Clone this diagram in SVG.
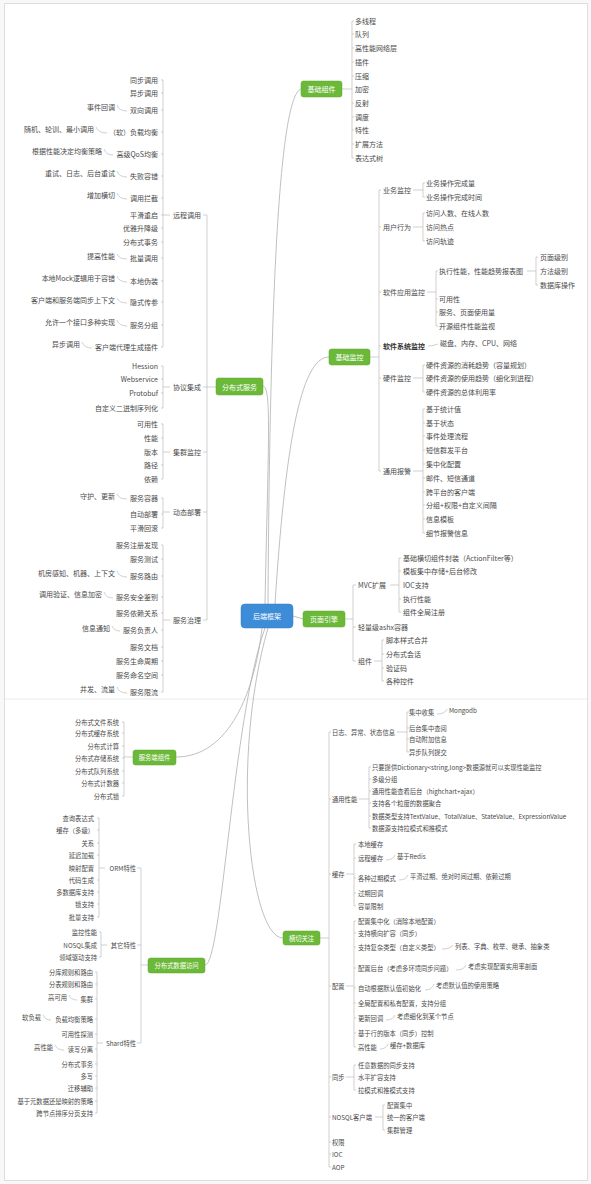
<svg xmlns="http://www.w3.org/2000/svg" width="591" height="1184" viewBox="0 0 591 1184">
<style>
text{font-family:"Noto Sans CJK SC","Noto Sans",sans-serif;dominant-baseline:central}
.t{font-size:7px;fill:#4a4a4a}
.s{font-size:6.3px;fill:#4a4a4a}
.e{text-anchor:end}
.bd{font-weight:bold;fill:#333}
.nt{fill:#fff;text-anchor:middle;font-size:7px}
.ns{fill:#fff;text-anchor:middle;font-size:6.3px}
.gr{fill:#6cb93a;stroke:#5ea82f;stroke-width:0.5}
.bl{fill:#3d8cd8;stroke:#3479c0;stroke-width:0.5}
.ln{fill:none;stroke:#bcbcbc;stroke-width:0.7}
.cv{fill:none;stroke:#b0b0b0;stroke-width:0.8}
</style>
<rect x="0" y="0" width="591" height="1184" fill="#f8f8f8"/>
<rect x="4.5" y="3.5" width="583" height="1177" fill="#fff" stroke="#dedede"/>
<line x1="5" y1="699" x2="587" y2="699" stroke="#ececec"/>

<g id="connectors">
<path class="cv" d="M268 604C270 250 282 95 301 89"/>
<path class="cv" d="M275 604C285 450 300 357 329 357"/>
<path class="cv" d="M265 604C268 450 272 386 263 386"/>
<path class="cv" d="M293 616L303 619"/>
<path class="cv" d="M262 628C255 690 230 757 176 757"/>
<path class="cv" d="M265 628C232 720 222 965 205 965"/>
<path class="cv" d="M268 628C230 760 250 938 283 938"/>
<!-- 分布式服务 -->
<path class="ln" d="M216 387H207M207 215V620M203 215h4M203 387h4M203 452h4M203 512h4M203 620h4"/>
<path class="ln" d="M163 80V347M170 215H163M161 80h2M161 93h2M161 110h2M161 132h2M161 154h2M161 176h2M161 198h2M161 215h2M161 228h2M161 242h2M161 258h2M161 281h2M161 302h2M161 325h2M161 347h2"/>
<path class="ln" d="M163 366V408M170 387H163M161 366h2M161 379h2M161 393h2M161 408h2"/>
<path class="ln" d="M163 424V479M170 452H163M161 424h2M161 438h2M161 465h2M161 479h2"/>
<path class="ln" d="M163 498V528M170 512H163M161 498h2M161 514h2M161 528h2"/>
<path class="ln" d="M163 545V692M170 620H163M161 545h2M161 559h2M161 576h2M161 597h2M161 613h2M161 630h2M161 647h2M161 661h2M161 675h2M161 692h2"/>
<path class="ln" d="M117 105Q119 111 127 111M96 127Q98 133 107 133M104 149Q106 155 113 155M117 171Q119 177 127 177M117 193Q119 199 127 199M117 254Q119 259 127 259M117 276Q119 282 127 282M117 298Q119 303 127 303M117 320Q119 326 127 326M82 342Q84 348 92 348M117 494Q119 499 127 499M117 571Q119 577 127 577M104 592Q106 598 113 598M112 626Q114 631 120 631M117 687Q119 693 127 693"/>
<!-- 基础组件 -->
<path class="ln" d="M342 89H352M352 21V158M352 21h2M352 34h2M352 48h2M352 62h2M352 76h2M352 103h2M352 117h2M352 130h2M352 144h2M352 158h2"/>
<!-- 基础监控 -->
<path class="ln" d="M370 357H379M379 190V471M379 190h2M379 227h2M379 292h2M379 346h2M379 378h2M379 471h2"/>
<path class="ln" d="M413 190H423M423 183V197M423 183h2M423 197h2"/>
<path class="ln" d="M413 227H423M423 213V241M423 213h2M423 241h2"/>
<path class="ln" d="M427 292H436M436 271V326M436 271h2M436 299h2M436 312h2M436 326h2"/>
<path class="ln" d="M527 271H536M536 257V285M536 257h2M536 285h2"/>
<path class="ln" d="M428 346Q433 346 438 344"/>
<path class="ln" d="M413 378H423M423 365V392M423 365h2M423 392h2"/>
<path class="ln" d="M413 471H423M423 409V533M423 409h2M423 423h2M423 436h2M423 450h2M423 464h2M423 478h2M423 492h2M423 505h2M423 519h2M423 533h2"/>
<!-- 页面引擎 -->
<path class="ln" d="M345 619H353M353 585V661M353 585h3M353 627h3M353 661h3"/>
<path class="ln" d="M390 585H399M399 558V612M399 558h2M399 571h2M399 599h2M399 612h2"/>
<path class="ln" d="M374 661H382M382 640V681M382 640h2M382 654h2M382 668h2M382 681h2"/>
<!-- 服务端组件 -->
<path class="ln" d="M133 757H124M124 722V796M122 722h2M122 733h2M122 746h2M122 758h2M122 771h2M122 783h2M122 796h2"/>
<!-- 分布式数据访问 -->
<path class="ln" d="M148 965H141M141 868V1043M137 868h4M137 945h4M137 1043h4"/>
<path class="ln" d="M99 818V917M105 868H99M97 818h2M97 830h2M97 843h2M97 855h2M97 880h2M97 892h2M97 904h2M97 917h2"/>
<path class="ln" d="M101 932V957M107 945H101M99 932h2M99 957h2"/>
<path class="ln" d="M97 972V1113M103 1043H97M95 972h2M95 984h2M95 999h2M95 1019h2M95 1034h2M95 1049h2M95 1064h2M95 1076h2M95 1088h2M95 1101h2M95 1113h2"/>
<path class="ln" d="M69 995Q71 1000 77 1000M43 1015Q45 1020 51 1020M55 1045Q57 1050 64 1050"/>
<!-- 横切关注 -->
<path class="ln" d="M320 938H329M329 732V1167M329 732h2M329 799h2M329 874h2M329 986h2M329 1077h2M329 1117h2M329 1142h2M329 1154h2M329 1167h2"/>
<path class="ln" d="M397 732H407M407 712V752M407 712h2M407 728h2M407 739h2M407 752h2"/>
<path class="ln" d="M359 799H369M369 767V828M369 767h2M369 779h2M369 791h2M369 803h2M369 816h2M369 828h2"/>
<path class="ln" d="M346 874H354M354 844V906M354 844h2M354 858h2M354 878h2M354 893h2M354 906h2"/>
<path class="ln" d="M346 986H354M354 921V1047M354 921h2M354 933h2M354 947h2M354 968h2M354 988h2M354 1003h2M354 1018h2M354 1033h2M354 1047h2"/>
<path class="ln" d="M346 1077H354M354 1065V1090M354 1065h2M354 1090h2"/>
<path class="ln" d="M375 1117H383M383 1105V1130M383 1105h2M383 1130h2"/>
<path class="ln" d="M437 714Q445 714 447 709M386 860Q393 860 395 855M399 880Q406 880 408 875M442 949Q451 949 453 945M456 970Q464 970 466 965M425 990Q432 990 434 984M386 1020Q393 1020 395 1015M380 1049Q386 1049 388 1044"/>
</g>

<g id="center"><rect class="bl" x="241" y="604" width="52" height="24" rx="4"/><text class="nt" x="267" y="616">后端框架</text></g>
<g id="jichuzujian"><rect class="gr" x="301" y="81" width="41" height="16" rx="2.5"/><text class="nt" x="321.5" y="89">基础组件</text></g>
<g id="jichujiankong"><rect class="gr" x="329" y="349" width="41" height="16" rx="2.5"/><text class="nt" x="349.5" y="357">基础监控</text></g>
<g id="fenbushifuwu"><rect class="gr" x="216" y="378" width="47" height="17" rx="2.5"/><text class="nt" x="239.5" y="386.5">分布式服务</text></g>
<g id="yemianyinqing"><rect class="gr" x="303" y="611" width="42" height="16" rx="2.5"/><text class="nt" x="324" y="619">页面引擎</text></g>
<g id="fuwuduanzujian"><rect class="gr" x="133" y="750" width="43" height="15" rx="2.5"/><text class="ns" x="154.5" y="757.5">服务端组件</text></g>
<g id="fenbushishujufangwen"><rect class="gr" x="148" y="958" width="57" height="15" rx="2.5"/><text class="ns" x="176.5" y="965.5">分布式数据访问</text></g>
<g id="hengqieguanzhu"><rect class="gr" x="283" y="931" width="37" height="14" rx="2.5"/><text class="ns" x="301.5" y="938">横切关注</text></g>

<!-- 分布式服务 branch -->
<g id="yuanchengdiaoyong"><text class="t" x="173" y="215">远程调用</text></g>
<g id="xieyijicheng"><text class="t" x="173" y="387">协议集成</text></g>
<g id="jiqunjiankong"><text class="t" x="173" y="452">集群监控</text></g>
<g id="dongtaibushu"><text class="t" x="173" y="512">动态部署</text></g>
<g id="fuwuzhili"><text class="t" x="173" y="620">服务治理</text></g>

<g id="rc-items" class="t e">
<g id="rc1"><text class="t e" x="158" y="80">同步调用</text></g>
<g id="rc2"><text class="t e" x="158" y="93">异步调用</text></g>
<g id="rc3"><text class="t e" x="158" y="110">双向调用</text></g>
<g id="rc4"><text class="t e" x="158" y="132">（软）负载均衡</text></g>
<g id="rc5"><text class="t e" x="158" y="154">高级QoS均衡</text></g>
<g id="rc6"><text class="t e" x="158" y="176">失败容错</text></g>
<g id="rc7"><text class="t e" x="158" y="198">调用拦截</text></g>
<g id="rc8"><text class="t e" x="158" y="215">平滑重启</text></g>
<g id="rc9"><text class="t e" x="158" y="228">优雅升降级</text></g>
<g id="rc10"><text class="t e" x="158" y="242">分布式事务</text></g>
<g id="rc11"><text class="t e" x="158" y="258">批量调用</text></g>
<g id="rc12"><text class="t e" x="158" y="281">本地伪装</text></g>
<g id="rc13"><text class="t e" x="158" y="302">隐式传参</text></g>
<g id="rc14"><text class="t e" x="158" y="325">服务分组</text></g>
<g id="rc15"><text class="t e" x="158" y="347">客户端代理生成插件</text></g>
<g id="rcn1"><text class="t e" x="115" y="107">事件回调</text></g>
<g id="rcn2"><text class="t e" x="94" y="129">随机、轮训、最小调用</text></g>
<g id="rcn3"><text class="t e" x="102" y="151">根据性能决定均衡策略</text></g>
<g id="rcn4"><text class="t e" x="115" y="173">重试、日志、后台重试</text></g>
<g id="rcn5"><text class="t e" x="115" y="195">增加横切</text></g>
<g id="rcn6"><text class="t e" x="115" y="256">提高性能</text></g>
<g id="rcn7"><text class="t e" x="115" y="278">本地Mock逻辑用于容错</text></g>
<g id="rcn8"><text class="t e" x="115" y="300">客户端和服务端同步上下文</text></g>
<g id="rcn9"><text class="t e" x="115" y="322">允许一个接口多种实现</text></g>
<g id="rcn10"><text class="t e" x="80" y="344">异步调用</text></g>
</g>

<g id="xy-items">
<g id="xy1"><text class="t e" x="158" y="366">Hession</text></g>
<g id="xy2"><text class="t e" x="158" y="379">Webservice</text></g>
<g id="xy3"><text class="t e" x="158" y="393">Protobuf</text></g>
<g id="xy4"><text class="t e" x="158" y="408">自定义二进制序列化</text></g>
</g>
<g id="jq-items">
<g id="jq1"><text class="t e" x="158" y="424">可用性</text></g>
<g id="jq2"><text class="t e" x="158" y="438">性能</text></g>
<g id="jq3"><text class="t e" x="158" y="452">版本</text></g>
<g id="jq4"><text class="t e" x="158" y="465">路径</text></g>
<g id="jq5"><text class="t e" x="158" y="479">依赖</text></g>
</g>
<g id="dt-items">
<g id="dt1"><text class="t e" x="158" y="498">服务容器</text></g>
<g id="dt2"><text class="t e" x="158" y="514">自动部署</text></g>
<g id="dt3"><text class="t e" x="158" y="528">平滑回滚</text></g>
<g id="dtn1"><text class="t e" x="115" y="496">守护、更新</text></g>
</g>
<g id="zl-items">
<g id="zl1"><text class="t e" x="158" y="545">服务注册发现</text></g>
<g id="zl2"><text class="t e" x="158" y="559">服务测试</text></g>
<g id="zl3"><text class="t e" x="158" y="576">服务路由</text></g>
<g id="zl4"><text class="t e" x="158" y="597">服务安全鉴别</text></g>
<g id="zl5"><text class="t e" x="158" y="613">服务依赖关系</text></g>
<g id="zl6"><text class="t e" x="158" y="630">服务负责人</text></g>
<g id="zl7"><text class="t e" x="158" y="647">服务文档</text></g>
<g id="zl8"><text class="t e" x="158" y="661">服务生命周期</text></g>
<g id="zl9"><text class="t e" x="158" y="675">服务命名空间</text></g>
<g id="zl10"><text class="t e" x="158" y="692">服务限流</text></g>
<g id="zln1"><text class="t e" x="115" y="573">机房感知、机器、上下文</text></g>
<g id="zln2"><text class="t e" x="102" y="594">调用验证、信息加密</text></g>
<g id="zln3"><text class="t e" x="110" y="628">信息通知</text></g>
<g id="zln4"><text class="t e" x="115" y="689">并发、流量</text></g>
</g>

<!-- 基础组件 items -->
<g id="jc-items">
<g id="jc1"><text class="t" x="355" y="21">多线程</text></g>
<g id="jc2"><text class="t" x="355" y="34">队列</text></g>
<g id="jc3"><text class="t" x="355" y="48">高性能网络层</text></g>
<g id="jc4"><text class="t" x="355" y="62">插件</text></g>
<g id="jc5"><text class="t" x="355" y="76">压缩</text></g>
<g id="jc6"><text class="t" x="355" y="89">加密</text></g>
<g id="jc7"><text class="t" x="355" y="103">反射</text></g>
<g id="jc8"><text class="t" x="355" y="117">调度</text></g>
<g id="jc9"><text class="t" x="355" y="130">特性</text></g>
<g id="jc10"><text class="t" x="355" y="144">扩展方法</text></g>
<g id="jc11"><text class="t" x="355" y="158">表达式树</text></g>
</g>

<!-- 基础监控 items -->
<g id="jk-items">
<g id="yewujiankong"><text class="t" x="383" y="190">业务监控</text></g>
<g id="yw1"><text class="t" x="426" y="183">业务操作完成量</text></g>
<g id="yw2"><text class="t" x="426" y="197">业务操作完成时间</text></g>
<g id="yonghuxingwei"><text class="t" x="383" y="227">用户行为</text></g>
<g id="yh1"><text class="t" x="426" y="213">访问人数、在线人数</text></g>
<g id="yh2"><text class="t" x="426" y="227">访问热点</text></g>
<g id="yh3"><text class="t" x="426" y="241">访问轨迹</text></g>
<g id="ruanjianyingyong"><text class="t" x="383" y="292">软件应用监控</text></g>
<g id="ry1"><text class="t" x="439" y="271">执行性能，性能趋势报表图</text></g>
<g id="ry1a"><text class="t" x="540" y="257">页面级别</text></g>
<g id="ry1b"><text class="t" x="540" y="271">方法级别</text></g>
<g id="ry1c"><text class="t" x="540" y="285">数据库操作</text></g>
<g id="ry2"><text class="t" x="439" y="299">可用性</text></g>
<g id="ry3"><text class="t" x="439" y="312">服务、页面使用量</text></g>
<g id="ry4"><text class="t" x="439" y="326">开源组件性能监视</text></g>
<g id="ruanjianxitong"><text class="t bd" x="383" y="346">软件系统监控</text></g>
<g id="rx1"><text class="t" x="440" y="343">磁盘、内存、CPU、网络</text></g>
<g id="yingjianjiankong"><text class="t" x="383" y="378">硬件监控</text></g>
<g id="yj1"><text class="t" x="426" y="365">硬件资源的消耗趋势（容量规划）</text></g>
<g id="yj2"><text class="t" x="426" y="378">硬件资源的使用趋势（细化到进程）</text></g>
<g id="yj3"><text class="t" x="426" y="392">硬件资源的总体利用率</text></g>
<g id="tongyongbaojing"><text class="t" x="383" y="471">通用报警</text></g>
<g id="bj1"><text class="t" x="426" y="409">基于统计值</text></g>
<g id="bj2"><text class="t" x="426" y="423">基于状态</text></g>
<g id="bj3"><text class="t" x="426" y="436">事件处理流程</text></g>
<g id="bj4"><text class="t" x="426" y="450">短信群发平台</text></g>
<g id="bj5"><text class="t" x="426" y="464">集中化配置</text></g>
<g id="bj6"><text class="t" x="426" y="478">邮件、短信通道</text></g>
<g id="bj7"><text class="t" x="426" y="492">跨平台的客户端</text></g>
<g id="bj8"><text class="t" x="426" y="505">分组+权限+自定义间隔</text></g>
<g id="bj9"><text class="t" x="426" y="519">信息模板</text></g>
<g id="bj10"><text class="t" x="426" y="533">细节报警信息</text></g>
</g>

<!-- 页面引擎 items -->
<g id="ym-items">
<g id="mvc"><text class="t" x="358" y="585">MVC扩展</text></g>
<g id="mvc1"><text class="t" x="403" y="558">基础横切组件封装（ActionFilter等）</text></g>
<g id="mvc2"><text class="t" x="403" y="571">模板集中存储+后台修改</text></g>
<g id="mvc3"><text class="t" x="403" y="585">IOC支持</text></g>
<g id="mvc4"><text class="t" x="403" y="599">执行性能</text></g>
<g id="mvc5"><text class="t" x="403" y="612">组件全局注册</text></g>
<g id="ashx"><text class="t" x="358" y="627">轻量级ashx容器</text></g>
<g id="zujian"><text class="t" x="358" y="661">组件</text></g>
<g id="zj1"><text class="t" x="386" y="640">脚本样式合并</text></g>
<g id="zj2"><text class="t" x="386" y="654">分布式会话</text></g>
<g id="zj3"><text class="t" x="386" y="668">验证码</text></g>
<g id="zj4"><text class="t" x="386" y="681">各种控件</text></g>
</g>

<!-- 服务端组件 items -->
<g id="fw-items">
<g id="fw1"><text class="s e" x="119" y="722">分布式文件系统</text></g>
<g id="fw2"><text class="s e" x="119" y="733">分布式缓存系统</text></g>
<g id="fw3"><text class="s e" x="119" y="746">分布式计算</text></g>
<g id="fw4"><text class="s e" x="119" y="758">分布式存储系统</text></g>
<g id="fw5"><text class="s e" x="119" y="771">分布式队列系统</text></g>
<g id="fw6"><text class="s e" x="119" y="783">分布式计数器</text></g>
<g id="fw7"><text class="s e" x="119" y="796">分布式锁</text></g>
</g>

<!-- 分布式数据访问 items -->
<g id="sj-items">
<g id="orm"><text class="s e" x="136" y="868">ORM特性</text></g>
<g id="orm1"><text class="s e" x="94" y="818">查询表达式</text></g>
<g id="orm2"><text class="s e" x="94" y="830">缓存（多级）</text></g>
<g id="orm3"><text class="s e" x="94" y="843">关系</text></g>
<g id="orm4"><text class="s e" x="94" y="855">延迟加载</text></g>
<g id="orm5"><text class="s e" x="94" y="868">映射配置</text></g>
<g id="orm6"><text class="s e" x="94" y="880">代码生成</text></g>
<g id="orm7"><text class="s e" x="94" y="892">多数据库支持</text></g>
<g id="orm8"><text class="s e" x="94" y="904">锁支持</text></g>
<g id="orm9"><text class="s e" x="94" y="917">批量支持</text></g>
<g id="qita"><text class="s e" x="136" y="945">其它特性</text></g>
<g id="qt1"><text class="s e" x="97" y="932">监控性能</text></g>
<g id="qt2"><text class="s e" x="97" y="945">NOSQL集成</text></g>
<g id="qt3"><text class="s e" x="97" y="957">领域驱动支持</text></g>
<g id="shard"><text class="s e" x="136" y="1043">Shard特性</text></g>
<g id="sh1"><text class="s e" x="93" y="972">分库规则和路由</text></g>
<g id="sh2"><text class="s e" x="93" y="984">分表规则和路由</text></g>
<g id="sh3"><text class="s e" x="93" y="999">集群</text></g>
<g id="sh4"><text class="s e" x="93" y="1019">负载均衡策略</text></g>
<g id="sh5"><text class="s e" x="93" y="1034">可用性探测</text></g>
<g id="sh6"><text class="s e" x="93" y="1049">读写分离</text></g>
<g id="sh7"><text class="s e" x="93" y="1064">分布式事务</text></g>
<g id="sh8"><text class="s e" x="93" y="1076">多写</text></g>
<g id="sh9"><text class="s e" x="93" y="1088">迁移辅助</text></g>
<g id="sh10"><text class="s e" x="93" y="1101">基于元数据还是映射的策略</text></g>
<g id="sh11"><text class="s e" x="93" y="1113">跨节点排序分页支持</text></g>
<g id="shn1"><text class="s e" x="67" y="997">高可用</text></g>
<g id="shn2"><text class="s e" x="41" y="1017">软负载</text></g>
<g id="shn3"><text class="s e" x="53" y="1047">高性能</text></g>
</g>

<!-- 横切关注 items -->
<g id="hq-items">
<g id="rizhi"><text class="s" x="332" y="732">日志、异常、状态信息</text></g>
<g id="rz1"><text class="s" x="409" y="712">集中收集</text></g>
<g id="rz1n"><text class="s" x="449" y="710">Mongodb</text></g>
<g id="rz2"><text class="s" x="409" y="728">后台集中查阅</text></g>
<g id="rz3"><text class="s" x="409" y="739">自动附加信息</text></g>
<g id="rz4"><text class="s" x="409" y="752">异步队列提交</text></g>
<g id="tongyongxingneng"><text class="s" x="332" y="799">通用性能</text></g>
<g id="xn1"><text class="s" x="372" y="767">只要提供Dictionary&lt;string,long&gt;数据源就可以实现性能监控</text></g>
<g id="xn2"><text class="s" x="372" y="779">多级分组</text></g>
<g id="xn3"><text class="s" x="372" y="791">通用性能查看后台（highchart+ajax）</text></g>
<g id="xn4"><text class="s" x="372" y="803">支持各个粒度的数据聚合</text></g>
<g id="xn5"><text class="s" x="372" y="816">数据类型支持TextValue、TotalValue、StateValue、ExpressionValue</text></g>
<g id="xn6"><text class="s" x="372" y="828">数据源支持拉模式和推模式</text></g>
<g id="huancun"><text class="s" x="332" y="874">缓存</text></g>
<g id="hc1"><text class="s" x="358" y="844">本地缓存</text></g>
<g id="hc2"><text class="s" x="358" y="858">远程缓存</text></g>
<g id="hc2n"><text class="s" x="397" y="856">基于Redis</text></g>
<g id="hc3"><text class="s" x="358" y="878">各种过期模式</text></g>
<g id="hc3n"><text class="s" x="410" y="876">平滑过期、绝对时间过期、依赖过期</text></g>
<g id="hc4"><text class="s" x="358" y="893">过期回调</text></g>
<g id="hc5"><text class="s" x="358" y="906">容量限制</text></g>
<g id="peizhi"><text class="s" x="332" y="986">配置</text></g>
<g id="pz1"><text class="s" x="358" y="921">配置集中化（消除本地配置）</text></g>
<g id="pz2"><text class="s" x="358" y="933">支持横向扩容（同步）</text></g>
<g id="pz3"><text class="s" x="358" y="947">支持复杂类型（自定义类型）</text></g>
<g id="pz3n"><text class="s" x="455" y="946">列表、字典、枚举、继承、抽象类</text></g>
<g id="pz4"><text class="s" x="358" y="968">配置后台（考虑多环境同步问题）</text></g>
<g id="pz4n"><text class="s" x="468" y="966">考虑实现配置实用率剖面</text></g>
<g id="pz5"><text class="s" x="358" y="988">自动根据默认值初始化</text></g>
<g id="pz5n"><text class="s" x="436" y="985">考虑默认值的使用策略</text></g>
<g id="pz6"><text class="s" x="358" y="1003">全局配置和私有配置，支持分组</text></g>
<g id="pz7"><text class="s" x="358" y="1018">更新回调</text></g>
<g id="pz7n"><text class="s" x="397" y="1016">考虑细化到某个节点</text></g>
<g id="pz8"><text class="s" x="358" y="1033">基于行的版本（同步）控制</text></g>
<g id="pz9"><text class="s" x="358" y="1047">高性能</text></g>
<g id="pz9n"><text class="s" x="390" y="1045">缓存+数据库</text></g>
<g id="tongbu"><text class="s" x="332" y="1077">同步</text></g>
<g id="tb1"><text class="s" x="358" y="1065">任意数据的同步支持</text></g>
<g id="tb2"><text class="s" x="358" y="1077">水平扩容支持</text></g>
<g id="tb3"><text class="s" x="358" y="1090">拉模式和推模式支持</text></g>
<g id="nosql"><text class="s" x="332" y="1117">NOSQL客户端</text></g>
<g id="ns1"><text class="s" x="387" y="1105">配置集中</text></g>
<g id="ns2"><text class="s" x="387" y="1117">统一的客户端</text></g>
<g id="ns3"><text class="s" x="387" y="1130">集群管理</text></g>
<g id="quanxian"><text class="s" x="332" y="1142">权限</text></g>
<g id="ioc"><text class="s" x="332" y="1154">IOC</text></g>
<g id="aop"><text class="s" x="332" y="1167">AOP</text></g>
</g>
</svg>
